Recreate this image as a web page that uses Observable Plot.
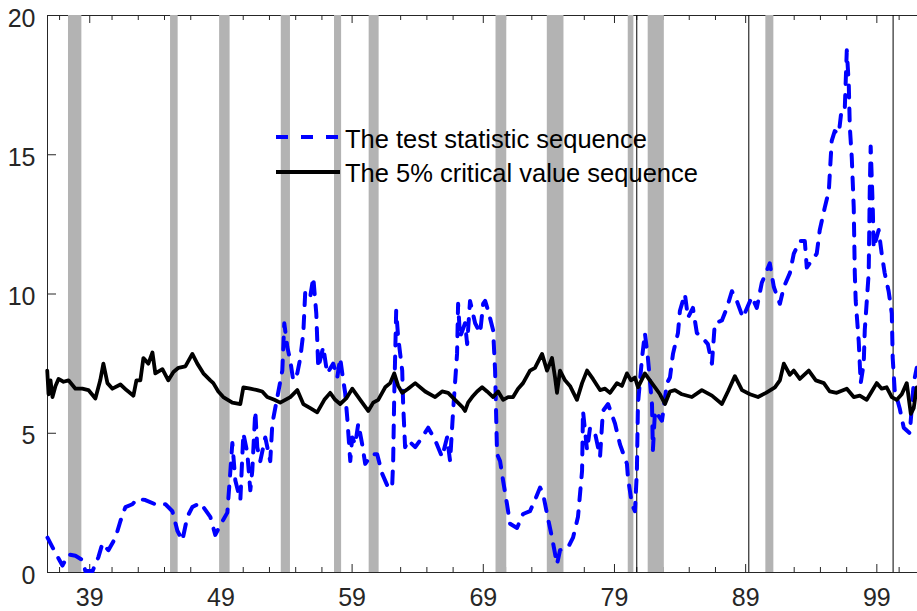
<!DOCTYPE html>
<html><head><meta charset="utf-8">
<script src="https://cdn.jsdelivr.net/npm/d3@7"></script>
<script src="https://cdn.jsdelivr.net/npm/@observablehq/plot@0.6"></script>
<style>
body{margin:0;background:#fff;}
#wrap{position:relative;width:917px;height:611px;font-family:"Liberation Sans",Arial,sans-serif;overflow:hidden;}
.ltext{position:absolute;font-size:25.5px;line-height:25px;color:#000;white-space:nowrap;}
.lsample{position:absolute;}
</style></head><body>
<div id="wrap"><div id="chart"></div></div>
<script>
// Test statistic sequence (year, value)
const statYears = [35.78,36.39,36.92,37.38,37.91,38.44,38.67,39.21,39.66,39.97,40.42,40.96,41.34,41.72,42.25,42.63,43.24,44.00,44.77,45.30,45.68,46.06,46.44,46.82,47.43,48.19,48.57,48.95,49.49,49.72,49.87,50.10,50.48,50.71,51.01,51.24,51.39,51.62,51.77,52.00,52.38,52.76,52.92,53.30,53.68,53.83,54.06,54.29,54.51,54.82,55.05,55.28,55.43,55.81,56.04,56.27,56.42,56.80,57.10,57.56,57.87,58.09,58.25,58.47,58.63,58.86,59.01,59.24,59.47,59.77,60.00,60.53,60.91,61.29,61.75,62.05,62.13,62.21,62.36,62.51,62.82,62.89,63.04,63.27,63.81,64.34,64.80,65.33,65.86,66.24,66.47,66.70,67.00,67.08,67.23,67.61,67.77,67.99,68.38,68.76,68.99,69.14,69.37,69.75,69.90,70.05,70.28,70.51,70.81,71.04,71.57,72.03,72.56,72.94,73.33,73.55,73.86,74.24,74.62,74.85,75.46,75.84,76.22,76.53,76.60,76.91,77.14,77.52,77.90,78.12,78.51,79.04,79.42,79.95,80.03,80.33,80.56,80.71,80.79,81.10,81.32,81.55,81.86,81.93,82.09,82.62,83.00,83.23,83.46,83.84,83.99,84.37,84.60,84.98,85.28,85.66,86.12,86.43,86.65,87.19,87.57,87.95,88.33,88.79,89.47,89.85,90.23,90.84,91.15,91.61,91.91,92.37,92.67,93.13,93.51,93.66,94.04,94.42,94.65,95.03,95.34,95.56,95.79,96.10,96.33,96.56,96.71,96.86,96.94,97.09,97.24,97.32,97.39,97.62,97.77,98.00,98.08,98.38,98.46,98.53,98.69,98.76,99.14,99.37,99.60,99.90,100.14,100.21,100.36,100.74,101.05,101.51,101.81,102.04];
const statValues = [1.25,0.7,0.25,0.65,0.6,0.45,0.05,0.05,0.55,1.05,0.8,1.25,1.85,2.35,2.45,2.65,2.6,2.45,2.45,2.2,1.5,1.15,2.0,2.35,2.5,2.0,1.35,1.7,2.15,3.65,4.65,3.3,2.6,5.0,4.3,2.95,3.65,5.8,4.5,4.0,4.85,4.0,5.35,6.3,7.25,8.95,8.1,7.6,6.9,7.15,7.7,8.6,10.1,9.9,10.6,9.3,7.35,8.1,7.15,7.5,7.0,7.7,7.15,6.45,5.55,4.0,4.85,4.6,5.35,4.6,3.9,4.25,4.25,3.55,3.05,3.05,4.0,6.3,9.4,8.45,7.25,6.05,4.5,4.75,4.5,4.85,5.2,4.75,4.15,4.85,4.0,5.8,7.85,9.65,8.45,8.95,8.2,9.75,8.95,8.6,9.65,9.75,9.4,8.7,7.25,4.25,4.0,3.3,2.45,1.75,1.6,2.1,2.2,2.6,3.05,2.85,2.1,1.25,0.3,0.8,0.9,1.25,2.0,3.65,5.8,4.4,5.2,5.0,4.15,5.8,6.05,5.35,4.6,3.9,3.4,2.45,2.2,3.65,6.05,7.7,8.6,7.7,6.05,4.4,5.8,5.45,6.8,7.0,7.85,8.6,9.4,10.0,9.15,9.5,8.6,8.45,8.2,7.5,8.95,9.05,9.5,10.1,9.75,9.15,9.9,9.5,10.4,11.1,10.25,9.65,10.25,10.75,11.45,11.9,11.9,10.95,11.2,11.45,12.3,13.1,13.7,15.5,15.85,15.75,16.7,16.7,18.75,17.55,16.0,14.9,13.1,10.75,9.75,8.3,6.8,7.5,8.7,10.75,13.7,15.3,13.1,11.65,12.3,11.45,10.75,10.1,9.3,7.7,6.55,5.9,5.2,5.0,6.8,7.35];

// 5% critical value sequence (year, value)
const critYears = [35.76,35.86,36.01,36.16,36.39,36.62,37.00,37.38,37.91,38.44,38.90,39.43,39.80,40.04,40.35,40.73,41.34,41.80,42.33,42.56,42.86,43.09,43.47,43.78,44.00,44.54,44.99,45.38,45.76,46.29,46.82,47.20,47.66,48.19,48.42,48.80,49.18,49.87,50.48,50.71,51.24,51.77,52.15,52.53,53.07,53.52,54.29,54.82,55.28,55.81,56.34,56.88,57.33,57.71,58.09,58.55,59.01,59.62,60.23,60.61,60.99,61.52,61.90,62.21,62.51,62.82,63.27,63.81,64.57,65.33,65.86,66.32,66.85,67.39,67.61,67.84,68.15,68.53,68.91,69.29,69.75,70.13,70.51,70.89,71.27,71.65,72.03,72.56,72.94,73.48,73.86,74.24,74.47,74.62,74.85,75.23,75.61,76.14,76.53,76.91,77.36,77.90,78.28,78.66,79.19,79.57,79.95,80.26,80.56,80.79,81.32,81.70,82.09,82.47,82.85,83.23,83.61,84.14,84.90,85.66,86.43,87.19,87.65,88.18,88.72,89.33,89.94,90.55,91.23,91.61,91.91,92.37,92.67,93.13,93.81,94.35,94.96,95.41,95.94,96.71,97.24,97.70,98.23,98.61,98.99,99.37,99.75,100.14,100.52,100.90,101.28,101.59,101.81,102.04];
const critValues = [7.25,6.4,6.9,6.3,6.7,6.95,6.85,6.9,6.6,6.6,6.55,6.25,6.9,7.5,6.8,6.6,6.75,6.55,6.35,6.9,6.9,7.7,7.5,7.9,7.15,7.3,6.9,7.2,7.35,7.4,7.85,7.5,7.15,6.9,6.8,6.5,6.3,6.1,6.05,6.65,6.6,6.55,6.5,6.3,6.2,6.1,6.3,6.55,6.05,5.9,5.75,6.2,6.45,6.2,6.05,6.25,6.6,6.2,5.8,6.1,6.2,6.65,6.8,7.15,6.7,6.45,6.6,6.8,6.5,6.3,6.5,6.45,6.2,5.95,5.8,6.1,6.3,6.5,6.65,6.5,6.3,6.5,6.2,6.3,6.3,6.6,6.8,7.25,7.35,7.85,7.25,7.7,7.0,6.45,7.25,6.9,6.7,6.2,6.8,7.25,6.95,6.55,6.6,6.45,6.8,6.7,7.15,6.9,7.0,6.65,7.15,6.9,6.65,6.4,6.05,6.5,6.55,6.4,6.3,6.55,6.35,6.05,6.5,7.05,6.55,6.4,6.3,6.45,6.65,6.9,7.5,7.1,7.25,6.95,7.25,6.9,6.8,6.5,6.45,6.6,6.3,6.35,6.2,6.5,6.8,6.6,6.65,6.3,6.2,6.4,6.8,5.7,5.9,6.65];

// Recession periods (shaded)
const recessionStart = [37.38,45.16,48.90,53.60,57.66,60.30,69.97,73.88,80.05,81.57,90.54];
const recessionEnd   = [38.40,45.74,49.70,54.30,58.20,61.06,70.79,75.15,80.48,82.80,91.15];
// Thin vertical reference lines
const markerYears = [80.70,89.24,100.24];

// Axis ticks
const xMajorTicks = [39,49,59,69,79,89,99];
const xMinorTicks = [36.7,40.7,42.7,44.7,46.7,50.7,52.7,54.7,56.7,60.7,62.7,64.7,66.7,70.7,72.7,74.7,76.7,80.7,82.7,84.7,86.7,90.7,92.7,94.7,96.7,100.7];
const yTicks = [0,5,10,15,20];
const xDomain = [35.78,102.1];
const yDomain = [0,20];

const seriesNames = ["The test statistic sequence","The 5% critical value sequence"];

const stat = statYears.map((x,i)=>({x, y: statValues[i]}));
const crit = critYears.map((x,i)=>({x, y: critValues[i]}));
const bands = recessionStart.map((s,i)=>({x1: s, x2: recessionEnd[i]}));

const W = 917, H = 611, mt = 15, mb = 39, ml = 47, mr = 0;
const ph = H - mt - mb, pw = W - ml - mr;
const axisColor = "#262626";

const chart = Plot.plot({
  width: W, height: H,
  marginTop: mt, marginBottom: mb, marginLeft: ml, marginRight: mr,
  style: {fontFamily: "'Liberation Sans', Arial, sans-serif", background: "white", overflow: "visible"},
  x: {domain: xDomain, axis: null, label: null},
  y: {domain: yDomain, axis: null, label: null},
  marks: [
    Plot.ruleY([yDomain[0], yDomain[1]], {stroke: axisColor, strokeWidth: 1}),
    Plot.ruleX([xDomain[0]], {stroke: axisColor, strokeWidth: 1}),
    Plot.tickX(xMajorTicks, {x: d => d, insetTop: ph - 8, stroke: axisColor, strokeWidth: 1}),
    Plot.tickX(xMajorTicks, {x: d => d, insetBottom: ph - 8, stroke: axisColor, strokeWidth: 1}),
    Plot.tickX(xMinorTicks, {x: d => d, insetTop: ph - 5, stroke: axisColor, strokeWidth: 1}),
    Plot.tickX(xMinorTicks, {x: d => d, insetBottom: ph - 5, stroke: axisColor, strokeWidth: 1}),
    Plot.tickY(yTicks, {y: d => d, insetRight: pw - 9, stroke: axisColor, strokeWidth: 1}),
    Plot.axisX(xMajorTicks, {anchor: "bottom", label: null, tickSize: 0, tickPadding: 15.5, fontSize: 25, fill: axisColor, tickFormat: d => String(d)}),
    Plot.axisY(yTicks, {anchor: "left", label: null, tickSize: 0, tickPadding: 12, fontSize: 25, fill: axisColor, dy: 3, tickFormat: d => String(d)}),
    Plot.rect(bands, {x1: "x1", x2: "x2", fill: "#b3b3b3"}),
    Plot.ruleX(markerYears, {stroke: "#000", strokeWidth: 1}),
    Plot.line(stat, {x: "x", y: "y", stroke: "#0000ff", strokeWidth: 4, strokeDasharray: "12,11"}),
    Plot.line(crit, {x: "x", y: "y", stroke: "#000", strokeWidth: 3.8})
  ]
});
document.getElementById("chart").appendChild(chart);

// Legend (HTML overlay)
const wrap = document.getElementById("wrap");
function addSample(top, dash, color) {
  const ns = "http://www.w3.org/2000/svg";
  const s = document.createElementNS(ns, "svg");
  s.setAttribute("width", 64); s.setAttribute("height", 10);
  s.setAttribute("class", "lsample");
  s.style.left = "276px"; s.style.top = (top - 5) + "px";
  const l = document.createElementNS(ns, "line");
  l.setAttribute("x1", 0); l.setAttribute("x2", 64);
  l.setAttribute("y1", 5); l.setAttribute("y2", 5);
  l.setAttribute("stroke", color); l.setAttribute("stroke-width", 4);
  if (dash) l.setAttribute("stroke-dasharray", dash);
  s.appendChild(l);
  wrap.appendChild(s);
}
function addText(top, txt) {
  const d = document.createElement("div");
  d.className = "ltext";
  d.style.left = "345px"; d.style.top = top + "px";
  d.textContent = txt;
  wrap.appendChild(d);
}
addSample(136.7, "12,13", "#0000ff");
addSample(171.7, null, "#000");
addText(127, seriesNames[0]);
addText(160.5, seriesNames[1]);
</script>
</body></html>
